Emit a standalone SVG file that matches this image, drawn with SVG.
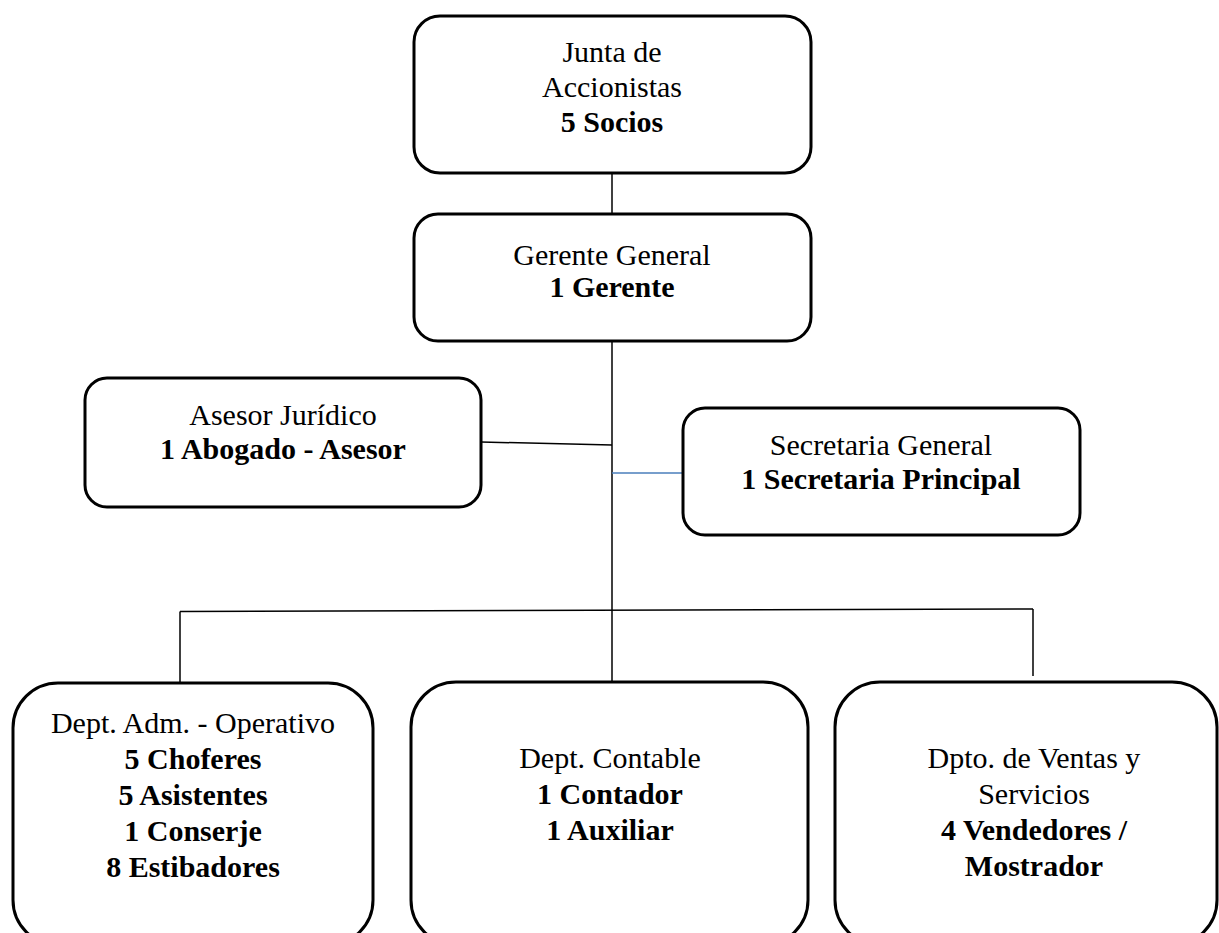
<svg xmlns="http://www.w3.org/2000/svg" width="1219" height="933" viewBox="0 0 1219 933">
  <style>
    .box { fill: #ffffff; stroke: #000000; stroke-width: 3; }
    .conn { stroke: #000000; stroke-width: 1.5; fill: none; }
    .blue { stroke: #4a7ebb; stroke-width: 1.5; fill: none; }
    text { font-family: "Liberation Serif", "Times New Roman", serif; font-size: 30px; fill: #000000; text-anchor: middle; }
    .b { font-weight: bold; }
  </style>
  <rect width="1219" height="933" fill="#ffffff"/>
  <g id="connectors">
    <line class="conn" x1="612" y1="173" x2="612" y2="214"/>
    <line class="conn" x1="612" y1="341" x2="612" y2="682"/>
    <line class="conn" x1="481" y1="442" x2="612" y2="445"/>
    <line class="blue" x1="612" y1="473" x2="683" y2="473"/>
    <line class="conn" x1="180" y1="611.5" x2="1033" y2="609"/>
    <line class="conn" x1="180" y1="611.5" x2="180" y2="683"/>
    <line class="conn" x1="1033" y1="609" x2="1033" y2="676"/>
  </g>
  <g id="junta">
    <rect class="box" x="414" y="16" width="397" height="157" rx="26" ry="26"/>
    <text x="612" y="62">Junta de</text>
    <text x="612" y="97">Accionistas</text>
    <text x="612" y="132" class="b">5 Socios</text>
  </g>
  <g id="gerente">
    <rect class="box" x="414" y="214" width="397" height="127" rx="24" ry="24"/>
    <text x="612" y="265">Gerente General</text>
    <text x="612" y="297" class="b">1 Gerente</text>
  </g>
  <g id="asesor">
    <rect class="box" x="85" y="378" width="396" height="129" rx="22" ry="22"/>
    <text x="283" y="425">Asesor Jurídico</text>
    <text x="283" y="459" class="b">1 Abogado - Asesor</text>
  </g>
  <g id="secretaria">
    <rect class="box" x="683" y="408" width="397" height="127" rx="22" ry="22"/>
    <text x="881" y="455">Secretaria General</text>
    <text x="881" y="489" class="b">1 Secretaria Principal</text>
  </g>
  <g id="adm">
    <rect class="box" x="13" y="683" width="360" height="262" rx="45" ry="45"/>
    <text x="193" y="733">Dept. Adm. - Operativo</text>
    <text x="193" y="769" class="b">5 Choferes</text>
    <text x="193" y="805" class="b">5 Asistentes</text>
    <text x="193" y="841" class="b">1 Conserje</text>
    <text x="193" y="877" class="b">8 Estibadores</text>
  </g>
  <g id="contable">
    <rect class="box" x="411" y="682" width="397" height="263" rx="45" ry="45"/>
    <text x="610" y="768">Dept. Contable</text>
    <text x="610" y="804" class="b">1 Contador</text>
    <text x="610" y="840" class="b">1 Auxiliar</text>
  </g>
  <g id="ventas">
    <rect class="box" x="835" y="682" width="382" height="263" rx="45" ry="45"/>
    <text x="1034" y="768">Dpto. de Ventas y</text>
    <text x="1034" y="804">Servicios</text>
    <text x="1034" y="840" class="b">4 Vendedores /</text>
    <text x="1034" y="876" class="b">Mostrador</text>
  </g>
</svg>
